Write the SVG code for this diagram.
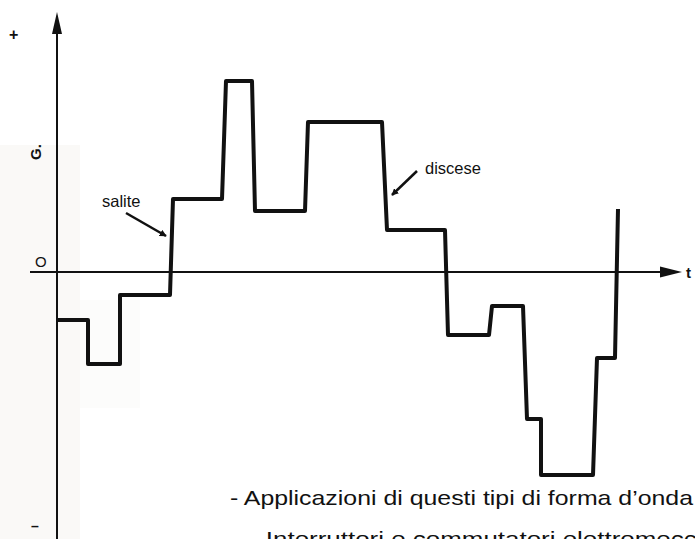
<svg xmlns="http://www.w3.org/2000/svg" width="695" height="539" viewBox="0 0 695 539">
<defs>
<style>
.lbl{font-family:"Liberation Sans",Arial,sans-serif;fill:#111}
.body{font-family:"Liberation Sans",Arial,sans-serif;fill:#111}
.axis{stroke:#111;stroke-width:2;fill:none}
.wave{stroke:#111;stroke-width:4;fill:none;stroke-linejoin:round}
.ptr{stroke:#111;stroke-width:2.5;fill:none}
</style>
<marker id="ah" viewBox="0 0 10 10" refX="9" refY="5" markerWidth="7" markerHeight="7" markerUnits="userSpaceOnUse" orient="auto">
<path d="M0,0 L10,5 L0,10 z" fill="#111"/>
</marker>
</defs>
<rect width="695" height="539" fill="#fff"/>
<g id="paper-tint">
<rect x="0" y="145" width="80" height="394" fill="#faf9f7"/>
<rect x="80" y="300" width="60" height="108" fill="#fcfcfb"/>
</g>
<g id="axes">
<line class="axis" x1="57" y1="539" x2="57" y2="30"/>
<path d="M57,12 L52,34 L62,34 z" fill="#111"/>
<line class="axis" x1="30" y1="272" x2="662" y2="272"/>
<path d="M682,272 L660,266.5 L660,277.5 z" fill="#111"/>
</g>
<g id="axis-labels">
<text class="lbl" x="9" y="40" font-size="16" font-weight="bold">+</text>
<text class="lbl" x="31" y="531" font-size="14" font-weight="bold">–</text>
<text class="lbl" x="35" y="267" font-size="15">O</text>
<text class="lbl" x="686" y="278" font-size="15" font-weight="bold">t</text>
<text class="lbl" font-size="15" font-weight="bold" transform="translate(41,160) rotate(-90)">G.</text>
</g>
<g id="waveform">
<polyline class="wave" points="57,320 88,320 88,364 120,364 120,295 170,295 173,199 222,199 226,81 252,81 255,211 305,211 308,122 382,122 387,230 445,230 448,335 489,335 492,306 523,306 527,419 541,419 541,475 593,475 597,358 615,358 618,209"/>
</g>
<g id="annotations">
<text class="lbl" x="102" y="207" font-size="16.5">salite</text>
<line class="ptr" x1="126" y1="213" x2="166" y2="236" marker-end="url(#ah)"/>
<text class="lbl" x="425" y="174" font-size="16.5">discese</text>
<line class="ptr" x1="417" y1="171" x2="392" y2="195" marker-end="url(#ah)"/>
</g>
<g id="caption">
<text class="body" x="230" y="505" font-size="21" textLength="463" lengthAdjust="spacingAndGlyphs">- Applicazioni di questi tipi di forma d’onda</text>
<text class="body" x="250" y="546" font-size="21" textLength="500" lengthAdjust="spacingAndGlyphs">- Interruttori e commutatori elettromeccanici</text>
</g>
</svg>
